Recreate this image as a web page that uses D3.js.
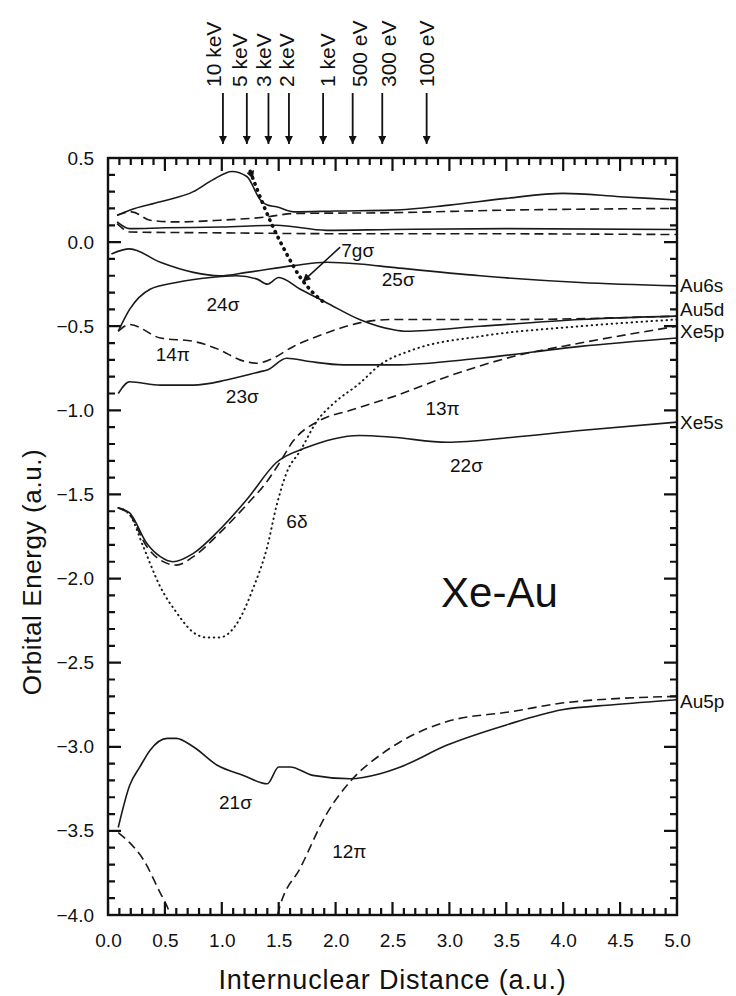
<!DOCTYPE html>
<html>
<head>
<meta charset="utf-8">
<script src="https://cdn.jsdelivr.net/npm/d3@7"></script>
<style>
  body { margin: 0; background: #fff; }
  svg { display: block; font-family: "Liberation Sans", Arial, Helvetica, sans-serif; }
</style>
</head>
<body>
<svg id="chart"></svg>
<script>
// orbital energies (a.u.) vs internuclear distance (a.u.)
var topSolid = [[0.08,0.16],[0.19,0.19],[0.46,0.24],[0.75,0.30],[0.92,0.37],[1.09,0.42],[1.22,0.39],[1.34,0.25],[1.40,0.22],[1.48,0.21],[1.63,0.18],[2.0,0.185],[2.5,0.19],[3.0,0.22],[3.5,0.26],[4.0,0.29],[4.5,0.27],[5.0,0.25]];
var topDashed = [[0.08,0.16],[0.21,0.18],[0.37,0.13],[0.6,0.12],[0.98,0.13],[1.4,0.15],[1.63,0.17],[2.5,0.175],[3.5,0.19],[5.0,0.20]];
var midSolid = [[0.08,0.12],[0.19,0.08],[0.5,0.085],[1.0,0.09],[1.48,0.10],[1.92,0.07],[2.5,0.075],[3.5,0.08],[5.0,0.075]];
var midDashed = [[0.08,0.11],[0.2,0.06],[1.0,0.055],[2.0,0.05],[3.0,0.05],[5.0,0.045]];
var sigma25 = [[0.03,-0.07],[0.19,-0.04],[0.46,-0.12],[0.75,-0.18],[0.98,-0.20],[1.22,-0.18],[1.63,-0.14],[1.92,-0.12],[2.21,-0.13],[2.5,-0.15],[3.27,-0.20],[4.15,-0.24],[5.0,-0.26]];
var sigma24 = [[0.09,-0.53],[0.19,-0.40],[0.37,-0.28],[0.6,-0.24],[0.9,-0.21],[1.13,-0.20],[1.31,-0.22],[1.40,-0.25],[1.5,-0.21],[1.69,-0.28],[1.92,-0.36],[2.21,-0.46],[2.5,-0.52],[2.62,-0.53],[3.27,-0.50],[4.15,-0.46],[5.0,-0.44]];
var pi14 = [[0.09,-0.53],[0.19,-0.49],[0.46,-0.57],[0.75,-0.59],[0.98,-0.64],[1.16,-0.70],[1.31,-0.72],[1.42,-0.70],[1.63,-0.62],[1.92,-0.54],[2.21,-0.48],[2.5,-0.46],[3.5,-0.46],[5.0,-0.44]];
var sigma23 = [[0.09,-0.90],[0.19,-0.83],[0.46,-0.85],[0.75,-0.85],[1.04,-0.82],[1.34,-0.77],[1.40,-0.76],[1.57,-0.69],[1.77,-0.71],[2.07,-0.73],[2.5,-0.73],[3.27,-0.69],[4.15,-0.62],[5.0,-0.57]];
var pi13 = [[0.09,-1.58],[0.19,-1.62],[0.34,-1.81],[0.46,-1.89],[0.6,-1.92],[0.75,-1.87],[0.98,-1.73],[1.22,-1.56],[1.40,-1.42],[1.5,-1.32],[1.63,-1.18],[1.86,-1.06],[2.13,-1.0],[2.5,-0.92],[2.98,-0.80],[3.56,-0.68],[4.15,-0.60],[5.0,-0.50]];
var sigma22 = [[0.09,-1.58],[0.19,-1.61],[0.34,-1.79],[0.46,-1.87],[0.57,-1.90],[0.75,-1.85],[0.98,-1.71],[1.22,-1.53],[1.48,-1.31],[1.75,-1.22],[1.98,-1.17],[2.21,-1.15],[2.5,-1.16],[2.98,-1.19],[3.56,-1.16],[4.15,-1.12],[5.0,-1.07]];
var delta6 = [[0.09,-1.58],[0.19,-1.62],[0.31,-1.81],[0.46,-2.05],[0.6,-2.2],[0.75,-2.32],[0.87,-2.35],[0.98,-2.35],[1.13,-2.27],[1.28,-2.05],[1.40,-1.81],[1.48,-1.57],[1.57,-1.37],[1.69,-1.24],[1.84,-1.06],[1.98,-0.96],[2.21,-0.84],[2.39,-0.73],[2.68,-0.64],[3.27,-0.56],[4.15,-0.50],[5.0,-0.46]];
var sigma7g = [[1.25,0.42],[1.36,0.23],[1.45,0.09],[1.57,-0.07],[1.69,-0.21],[1.80,-0.30],[1.92,-0.37]];
var sigma21 = [[0.09,-3.48],[0.19,-3.23],[0.28,-3.12],[0.37,-3.02],[0.52,-2.95],[0.6,-2.95],[0.75,-3.0],[0.96,-3.11],[1.19,-3.17],[1.40,-3.22],[1.5,-3.12],[1.6,-3.12],[1.8,-3.17],[2.13,-3.19],[2.39,-3.16],[2.57,-3.12],[2.98,-2.99],[3.5,-2.87],[3.99,-2.78],[4.44,-2.75],[5.0,-2.72]];
var pi12 = [[0.09,-3.51],[0.19,-3.57],[0.31,-3.67],[0.46,-3.87],[0.52,-3.95],[0.55,-4.0],[1.0,null],[1.49,-4.0],[1.51,-3.95],[1.69,-3.72],[1.92,-3.40],[2.15,-3.19],[2.39,-3.05],[2.57,-2.97],[2.98,-2.85],[3.56,-2.79],[3.99,-2.74],[5.0,-2.70]];

// curve labels
var curveText = ["24σ","14π","23σ","25σ","13π","22σ","6δ","21σ","12π"];
var curveX = [1.01,0.57,1.18,2.55,2.94,3.15,1.66,1.12,2.12];
var curveY = [-0.37,-0.67,-0.92,-0.225,-0.99,-1.325,-1.66,-3.33,-3.62];

// separated-atom limits on the right
var limitText = ["Au6s","Au5d","Xe5p","Xe5s","Au5p"];
var limitY = [-0.255,-0.40,-0.53,-1.07,-2.73];

// collision energies marked at the top
var energyText = ["10 keV","5 keV","3 keV","2 keV","1 keV","500 eV","300 eV","100 eV"];
var energyX = [1.01,1.22,1.41,1.59,1.89,2.15,2.41,2.80];
var energyNudge = [-9,-7,-5,-2,4,7,6,0]; // px, label offset from its arrow

var xTicks = [0, 0.5, 1, 1.5, 2, 2.5, 3, 3.5, 4, 4.5, 5];
var yTicks = [-4, -3.5, -3, -2.5, -2, -1.5, -1, -0.5, 0, 0.5];

var width = 736, height = 996;
var margin = { top: 158, right: 59, bottom: 81, left: 108 };

var xScale = d3.scaleLinear().domain([0, 5]).range([margin.left, width - margin.right]);
var yScale = d3.scaleLinear().domain([-4, 0.5]).range([height - margin.bottom, margin.top]);

var svg = d3.select("#chart").attr("width", width).attr("height", height);

var defs = svg.append("defs");
defs.append("clipPath").attr("id", "plot-clip")
  .append("rect")
  .attr("x", margin.left).attr("y", margin.top)
  .attr("width", width - margin.left - margin.right)
  .attr("height", height - margin.top - margin.bottom);

function arrowMarker(id, len, wid, refX) {
  defs.append("marker")
    .attr("id", id)
    .attr("viewBox", "0 0 10 10")
    .attr("refX", refX).attr("refY", 5)
    .attr("markerUnits", "userSpaceOnUse")
    .attr("markerWidth", len).attr("markerHeight", wid)
    .attr("orient", "auto")
    .append("path").attr("d", "M0,0L10,5L0,10z").attr("fill", "#111");
}
arrowMarker("head", 13, 8, 10);
arrowMarker("head-start", 14, 8, 0);

var fmt = d3.format(".1f");
var xLo = margin.left, xHi = width - margin.right;
var yLo = height - margin.bottom, yHi = margin.top;

// tick labels
var xb = svg.append("g")
  .attr("transform", "translate(0," + yLo + ")")
  .call(d3.axisBottom(xScale).tickValues(xTicks).tickSize(0).tickPadding(19).tickFormat(fmt));
var yl = svg.append("g")
  .attr("transform", "translate(" + xLo + ",0)")
  .call(d3.axisLeft(yScale).tickValues(yTicks).tickSize(0).tickPadding(14).tickFormat(fmt));
svg.selectAll(".domain").remove();
xb.selectAll("text").style("font-size", "19px").style("fill", "#111");
yl.selectAll("text").style("font-size", "19px").style("fill", "#111");

var line = d3.line()
  .defined(function(d) { return d[1] !== null; })
  .x(function(d) { return xScale(d[0]); })
  .y(function(d) { return yScale(d[1]); })
  .curve(d3.curveMonotoneX);

var styles = {
  solid: { dash: null, w: 1.6, cap: "butt" },
  dashed: { dash: "9,5", w: 1.6, cap: "butt" },
  dotted: { dash: "0.5,4.5", w: 2, cap: "round" },
  bold: { dash: "0.5,6", w: 3.6, cap: "round" }
};

var curves = [
  { data: topSolid, s: "solid" }, { data: topDashed, s: "dashed" },
  { data: midSolid, s: "solid" }, { data: midDashed, s: "dashed" },
  { data: sigma25, s: "solid" }, { data: sigma24, s: "solid" },
  { data: pi14, s: "dashed" }, { data: sigma23, s: "solid" },
  { data: pi13, s: "dashed" }, { data: sigma22, s: "solid" },
  { data: delta6, s: "dotted" }, { data: sigma21, s: "solid" },
  { data: pi12, s: "dashed" }
];

var plot = svg.append("g").attr("clip-path", "url(#plot-clip)");
plot.selectAll("path.curve")
  .data(curves)
  .join("path")
  .attr("class", "curve")
  .attr("d", function(c) { return line(c.data); })
  .attr("fill", "none")
  .attr("stroke", "#1a1a1a")
  .attr("stroke-width", function(c) { return styles[c.s].w; })
  .attr("stroke-dasharray", function(c) { return styles[c.s].dash; })
  .attr("stroke-linecap", function(c) { return styles[c.s].cap; });

// inward tick combs on all four sides, every 0.1 with longer marks at 0.5
var minorX = xScale.ticks(50);
var minorY = yScale.ticks(45);
function tickLen(v) { return Math.abs(v * 2 - Math.round(v * 2)) < 1e-6 ? 13 : 7; }
var comb = d3.path();
minorX.forEach(function(v) {
  var px = xScale(v);
  comb.moveTo(px, yLo); comb.lineTo(px, yLo - tickLen(v));
  comb.moveTo(px, yHi); comb.lineTo(px, yHi + tickLen(v));
});
minorY.forEach(function(v) {
  var py = yScale(v);
  comb.moveTo(xLo, py); comb.lineTo(xLo + tickLen(v), py);
  comb.moveTo(xHi, py); comb.lineTo(xHi - tickLen(v), py);
});
plot.append("path")
  .attr("d", comb.toString())
  .attr("fill", "none")
  .attr("stroke", "#111")
  .attr("stroke-width", 2.2);

svg.append("rect")
  .attr("x", xLo).attr("y", yHi)
  .attr("width", xHi - xLo).attr("height", yLo - yHi)
  .attr("fill", "none").attr("stroke", "#111").attr("stroke-width", 2.4);

// 7g-sigma: bold dotted with arrowhead at its start
svg.append("path")
  .attr("d", line(sigma7g))
  .attr("fill", "none")
  .attr("stroke", "#111")
  .attr("stroke-width", styles.bold.w)
  .attr("stroke-dasharray", styles.bold.dash)
  .attr("stroke-linecap", "round")
  .attr("marker-start", "url(#head-start)");

// 7g-sigma label with leader arrow
svg.append("line")
  .attr("x1", xScale(2.04)).attr("y1", yScale(-0.03))
  .attr("x2", xScale(1.71)).attr("y2", yScale(-0.235))
  .attr("stroke", "#111").attr("stroke-width", 1.5)
  .attr("marker-end", "url(#head)");
svg.append("text")
  .attr("x", xScale(2.05)).attr("y", yScale(-0.05))
  .attr("dominant-baseline", "central")
  .style("font-size", "19px").attr("fill", "#111")
  .text("7gσ");

svg.append("g").selectAll("text")
  .data(curveText)
  .join("text")
  .attr("x", function(d, i) { return xScale(curveX[i]); })
  .attr("y", function(d, i) { return yScale(curveY[i]); })
  .attr("text-anchor", "middle")
  .attr("dominant-baseline", "central")
  .style("font-size", "19px").attr("fill", "#111")
  .text(function(d) { return d; });

svg.append("g").selectAll("text")
  .data(limitText)
  .join("text")
  .attr("x", xHi + 3)
  .attr("y", function(d, i) { return yScale(limitY[i]); })
  .attr("dominant-baseline", "central")
  .style("font-size", "19px").attr("fill", "#111")
  .text(function(d) { return d; });

// energy arrows above the frame
var eg = svg.append("g");
eg.selectAll("line")
  .data(energyX)
  .join("line")
  .attr("x1", function(d) { return xScale(d); }).attr("x2", function(d) { return xScale(d); })
  .attr("y1", margin.top - 65).attr("y2", margin.top - 14)
  .attr("stroke", "#111").attr("stroke-width", 1.8)
  .attr("marker-end", "url(#head)");
eg.selectAll("text")
  .data(energyText)
  .join("text")
  .attr("transform", function(d, i) {
    return "translate(" + (xScale(energyX[i]) + energyNudge[i]) + "," + (margin.top - 71) + ") rotate(-90)";
  })
  .attr("dominant-baseline", "central")
  .style("font-size", "21px").attr("fill", "#111")
  .text(function(d) { return d; });

svg.append("text")
  .attr("x", xScale(3.44)).attr("y", yScale(-2.08))
  .attr("text-anchor", "middle").attr("dominant-baseline", "central")
  .style("font-size", "42px").attr("fill", "#111")
  .text("Xe-Au");

svg.append("text")
  .attr("x", (xLo + xHi) / 2)
  .attr("y", height - 7)
  .attr("text-anchor", "middle")
  .style("font-size", "27px").style("letter-spacing", "0.8px").attr("fill", "#111")
  .text("Internuclear Distance (a.u.)");

svg.append("text")
  .attr("transform", "translate(32," + 572 + ") rotate(-90)")
  .attr("text-anchor", "middle").attr("dominant-baseline", "central")
  .style("font-size", "26px").style("letter-spacing", "0.6px").attr("fill", "#111")
  .text("Orbital Energy (a.u.)");
</script>
</body>
</html>
